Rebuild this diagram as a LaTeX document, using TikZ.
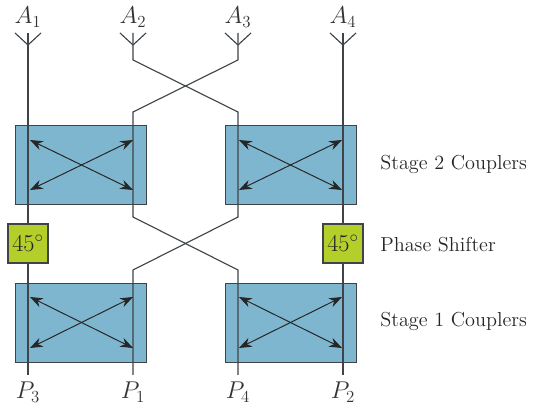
\documentclass[tikz,border=0pt]{standalone}
\usepackage{amsmath, amssymb, amsthm}
\usepackage{tikz}
\usetikzlibrary{arrows.meta}
\definecolor{couplerblue}{HTML}{7FB6CF}
\definecolor{shiftergreen}{HTML}{B4CE2A}
\definecolor{wiregray}{HTML}{3E4447}
\tikzset{
	coupler/.style={draw=wiregray, fill=couplerblue, line width=0.65pt, minimum width=3.275cm, minimum height=1.975cm, inner sep=0},
	shifter/.style={draw=wiregray, fill=shiftergreen, line width=1pt, minimum width=1cm, minimum height=0.975cm, inner sep=0, font=\LARGE, text=black!85},
	wire/.style={draw=wiregray, line width=0.8pt},
	link/.style={draw=black!85, line width=0.7pt, {Stealth[length=3.2mm,width=2.4mm]}-{Stealth[length=3.2mm,width=2.4mm]}},
	caption/.style={anchor=west, font=\Large, text=black!85, inner sep=0},
	port/.style={font=\LARGE, text=black!80, inner sep=0}
}
\begin{document}
\begin{tikzpicture}
	\useasboundingbox (0,0) rectangle (13.525,10.1);

	% couplers
	\node [coupler] (c21) at (2.0125,5.9875) {};
	\node [coupler] (c22) at (7.275,5.9875) {};
	\node [coupler] (c11) at (2.0125,2.0375) {};
	\node [coupler] (c12) at (7.275,2.0375) {};

	% antennas
	\coordinate (a1) at (0.7,9.275);
	\coordinate (a2) at (3.325,9.275);
	\coordinate (a3) at (5.95,9.275);
	\coordinate (a4) at (8.575,9.275);
	\coordinate (b1) at (0.7,8.975);
	\coordinate (b2) at (3.325,8.975);
	\coordinate (b3) at (5.95,8.975);
	\coordinate (b4) at (8.575,8.975);
	\draw [wire] (b1)--+(-0.325,0.3) (b1)--+(0.325,0.3);
	\draw [wire] (b2)--+(-0.325,0.3) (b2)--+(0.325,0.3);
	\draw [wire] (b3)--+(-0.325,0.3) (b3)--+(0.325,0.3);
	\draw [wire] (b4)--+(-0.325,0.3) (b4)--+(0.325,0.3);

	% bottom ends
	\coordinate (p3) at (0.7,0.725);
	\coordinate (p1) at (3.325,0.725);
	\coordinate (p4) at (5.95,0.725);
	\coordinate (p2) at (8.575,0.725);

	% bends of the crossings
	\coordinate (u2) at (3.325,8.6);
	\coordinate (u3) at (5.95,8.6);
	\coordinate (v2) at (3.325,7.3);
	\coordinate (v3) at (5.95,7.3);
	\coordinate (w2) at (3.325,4.675);
	\coordinate (w3) at (5.95,4.675);
	\coordinate (z2) at (3.325,3.35);
	\coordinate (z3) at (5.95,3.35);

	% wires
	\draw [wire] (a1)--(p3);
	\draw [wire] (a4)--(p2);
	\draw [wire] (a2)--(u2)--(v3)--(w3)--(z2)--(p1);
	\draw [wire] (a3)--(u3)--(v2)--(w2)--(z3)--(p4);

	% stage 2 arrows
	\draw [link] (0.75,6.6)--(3.325,5.35);
	\draw [link] (0.75,5.35)--(3.325,6.6);
	\draw [link] (5.975,6.6)--(8.55,5.35);
	\draw [link] (5.975,5.35)--(8.55,6.6);

	% stage 1 arrows
	\draw [link] (0.75,2.675)--(3.325,1.4);
	\draw [link] (0.75,1.4)--(3.325,2.675);
	\draw [link] (5.975,2.675)--(8.55,1.4);
	\draw [link] (5.975,1.4)--(8.55,2.675);

	% phase shifters
	\node [shifter] (s1) at (0.7,4.0125) {$45^\circ$};
	\node [shifter] (s2) at (8.575,4.0125) {$45^\circ$};

	% labels
	\node [port] (l1) at (0.7,9.675) {$A_1$};
	\node [port] (l2) at (3.325,9.675) {$A_2$};
	\node [port] (l3) at (5.95,9.675) {$A_3$};
	\node [port] (l4) at (8.575,9.675) {$A_4$};
	\node [port] (m3) at (0.7,0.3) {$P_3$};
	\node [port] (m1) at (3.325,0.3) {$P_1$};
	\node [port] (m4) at (5.95,0.3) {$P_4$};
	\node [port] (m2) at (8.575,0.3) {$P_2$};

	\node [caption] (t2) at (9.5,5.99) {Stage 2 Couplers};
	\node [caption] (t0) at (9.5,3.99) {Phase Shifter};
	\node [caption] (t1) at (9.5,2.07) {Stage 1 Couplers};
\end{tikzpicture}
\end{document}
